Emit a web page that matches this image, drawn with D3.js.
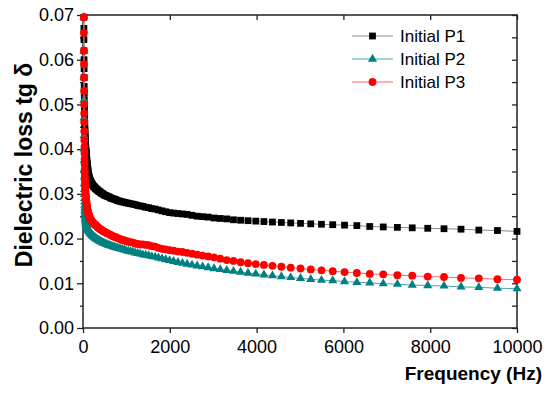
<!DOCTYPE html>
<html>
<head>
<meta charset="utf-8">
<script src="https://cdn.jsdelivr.net/npm/d3@7"></script>
<style>
  body { margin: 0; background: #fff; }
  svg { display: block; font-family: "Liberation Sans", Arial, sans-serif; }
</style>
</head>
<body>
<svg id="chart" width="550" height="393"></svg>
<script>
// measurement frequencies (Hz)
const freq = [
  20.0, 20.9, 21.9, 22.9, 24.0, 25.1, 26.3, 27.5, 28.8, 30.2,
  31.6, 33.1, 34.7, 36.3, 38.0, 39.8, 41.7, 43.7, 45.7, 47.9,
  50.1, 52.5, 55.0, 57.5, 60.3, 63.1, 66.1, 69.2, 72.4, 75.9,
  79.4, 83.2, 87.1, 91.2, 95.5, 100, 104.7, 109.6, 114.8, 120.2,
  125.9, 131.8, 138.0, 144.5, 151.4, 158.5, 166.0, 173.8, 182.0, 190.5,
  199.5, 208.9, 218.8, 229.1, 239.9, 251.2, 263.0, 275.4, 288.4, 302.0,
  316.2, 331.1, 346.7, 363.1, 380.2, 398.1, 416.9, 436.5, 457.1, 478.6,
  501.2, 524.8, 549.5, 575.4, 602.6, 631.0, 660.7, 691.8, 724.4, 758.6,
  794.3, 831.8, 871.0, 912.0, 955.0, 1000, 1047, 1096, 1148, 1202,
  1259, 1318, 1380, 1445, 1514, 1585, 1660, 1738, 1820, 1905,
  1995, 2089, 2188, 2291, 2399, 2512, 2630, 2754, 2884, 3020,
  3162, 3311, 3467, 3631, 3802, 3981, 4169, 4365, 4571, 4786,
  5012, 5248, 5495, 5754, 6026, 6310, 6607, 6918, 7244, 7586,
  7943, 8318, 8710, 9120, 9550, 10000
];

// dielectric loss tg delta
const p1 = [
  0.0695, 0.0670, 0.0645, 0.0620, 0.0600, 0.0580, 0.0560, 0.0540, 0.0525, 0.0510,
  0.0498, 0.0488, 0.0478, 0.0470, 0.0462, 0.0455, 0.0448, 0.0442, 0.0436, 0.0430,
  0.0425, 0.0421, 0.0417, 0.0413, 0.0409, 0.0405, 0.0401, 0.0397, 0.0393, 0.0389,
  0.0385, 0.0381, 0.0377, 0.0373, 0.0369, 0.0365, 0.0361, 0.0357, 0.0353, 0.0349,
  0.0345, 0.0342, 0.0339, 0.0336, 0.0334, 0.0332, 0.0330, 0.0328, 0.0326, 0.0325,
  0.0323, 0.0322, 0.0320, 0.0319, 0.0317, 0.0316, 0.0315, 0.0314, 0.0312, 0.0311,
  0.0310, 0.0309, 0.0307, 0.0306, 0.0305, 0.0304, 0.0302, 0.0301, 0.0300, 0.0298,
  0.0297, 0.0296, 0.0295, 0.0294, 0.0293, 0.0291, 0.0290, 0.0289, 0.0288, 0.0287,
  0.0285, 0.0284, 0.0283, 0.0282, 0.0281, 0.0280, 0.0279, 0.0278, 0.0277, 0.0276,
  0.0274, 0.0273, 0.0272, 0.0270, 0.0269, 0.0267, 0.0266, 0.0264, 0.0262, 0.0260,
  0.0258, 0.0257, 0.0256, 0.0255, 0.0254, 0.0252, 0.0250, 0.0249, 0.0248, 0.0246,
  0.0245, 0.0244, 0.0242, 0.0241, 0.0240, 0.0239, 0.0238, 0.0237, 0.0236, 0.0235,
  0.0234, 0.0233, 0.0232, 0.0231, 0.0230, 0.0229, 0.0227, 0.0226, 0.0225, 0.0224,
  0.0223, 0.0222, 0.0221, 0.0219, 0.0218, 0.0216
];
const p2 = [
  0.0695, 0.0620, 0.0560, 0.0510, 0.0470, 0.0430, 0.0400, 0.0375, 0.0355, 0.0338,
  0.0323, 0.0310, 0.0299, 0.0290, 0.0282, 0.0275, 0.0269, 0.0264, 0.0260, 0.0256,
  0.0252, 0.0249, 0.0246, 0.0243, 0.0241, 0.0239, 0.0237, 0.0235, 0.0233, 0.0232,
  0.0230, 0.0229, 0.0228, 0.0226, 0.0225, 0.0224, 0.0223, 0.0222, 0.0221, 0.0220,
  0.0219, 0.0218, 0.0217, 0.0216, 0.0215, 0.0214, 0.0213, 0.0212, 0.0211, 0.0210,
  0.0209, 0.0208, 0.0207, 0.0206, 0.0205, 0.0204, 0.0203, 0.0202, 0.0201, 0.0200,
  0.0199, 0.0198, 0.0197, 0.0196, 0.0195, 0.0194, 0.0193, 0.0192, 0.0191, 0.0190,
  0.0189, 0.0188, 0.0187, 0.0186, 0.0185, 0.0184, 0.0183, 0.0182, 0.0181, 0.0180,
  0.0179, 0.0178, 0.0177, 0.0176, 0.0175, 0.0173, 0.0172, 0.0171, 0.0170, 0.0168,
  0.0167, 0.0166, 0.0164, 0.0163, 0.0162, 0.0160, 0.0159, 0.0157, 0.0155, 0.0153,
  0.0151, 0.0149, 0.0147, 0.0145, 0.0143, 0.0141, 0.0139, 0.0137, 0.0135, 0.0133,
  0.0131, 0.0129, 0.0127, 0.0125, 0.0123, 0.0121, 0.0119, 0.0117, 0.0115, 0.0113,
  0.0111, 0.0109, 0.0107, 0.0106, 0.0104, 0.0102, 0.0101, 0.0099, 0.0098, 0.0096,
  0.0095, 0.0094, 0.0092, 0.0091, 0.0089, 0.0088
];
const p3 = [
  0.0695, 0.0660, 0.0620, 0.0590, 0.0560, 0.0530, 0.0500, 0.0480, 0.0460, 0.0440,
  0.0420, 0.0405, 0.0390, 0.0378, 0.0366, 0.0355, 0.0345, 0.0337, 0.0330, 0.0323,
  0.0317, 0.0312, 0.0307, 0.0303, 0.0299, 0.0296, 0.0293, 0.0290, 0.0287, 0.0284,
  0.0281, 0.0278, 0.0275, 0.0272, 0.0269, 0.0266, 0.0264, 0.0262, 0.0260, 0.0258,
  0.0256, 0.0254, 0.0252, 0.0250, 0.0249, 0.0247, 0.0245, 0.0244, 0.0242, 0.0241,
  0.0239, 0.0238, 0.0237, 0.0236, 0.0234, 0.0233, 0.0232, 0.0231, 0.0230, 0.0229,
  0.0228, 0.0226, 0.0225, 0.0224, 0.0222, 0.0221, 0.0220, 0.0219, 0.0217, 0.0216,
  0.0215, 0.0214, 0.0212, 0.0211, 0.0210, 0.0208, 0.0207, 0.0205, 0.0204, 0.0203,
  0.0201, 0.0200, 0.0198, 0.0197, 0.0196, 0.0194, 0.0193, 0.0192, 0.0191, 0.0189,
  0.0188, 0.0187, 0.0187, 0.0186, 0.0185, 0.0183, 0.0182, 0.0179, 0.0177, 0.0176,
  0.0174, 0.0173, 0.0171, 0.0170, 0.0168, 0.0166, 0.0164, 0.0162, 0.0160, 0.0158,
  0.0155, 0.0152, 0.0150, 0.0147, 0.0145, 0.0143, 0.0141, 0.0139, 0.0137, 0.0135,
  0.0133, 0.0131, 0.0129, 0.0127, 0.0125, 0.0123, 0.0121, 0.0120, 0.0118, 0.0117,
  0.0115, 0.0114, 0.0112, 0.0111, 0.0109, 0.0108
];

const seriesNames = ['Initial P1', 'Initial P2', 'Initial P3'];
const xTicks = [0, 2000, 4000, 6000, 8000, 10000];
const yTicks = [0, 0.01, 0.02, 0.03, 0.04, 0.05, 0.06, 0.07];
const yMinor = [0.005, 0.015, 0.025, 0.035, 0.045, 0.055, 0.065];

const svg = d3.select('#chart');
const x = d3.scaleLinear().domain([0, 10000]).range([83, 517]);
const y = d3.scaleLinear().domain([0, 0.07]).range([328, 15]);

const font = '"Liberation Sans", Arial, sans-serif';

// bottom axis
const gx = svg.append('g')
  .attr('transform', 'translate(0,328)')
  .call(d3.axisBottom(x).tickValues(xTicks).tickSize(5).tickPadding(7).tickFormat(d3.format('d')));
// left axis
const gy = svg.append('g')
  .attr('transform', 'translate(83,0)')
  .call(d3.axisLeft(y).tickValues(yTicks).tickSize(6).tickPadding(3).tickFormat(d3.format('.2f')));
const gyMinor = svg.append('g')
  .attr('transform', 'translate(83,0)')
  .call(d3.axisLeft(y).tickValues(yMinor).tickSize(3).tickFormat(''));
// mirror ticks on top and right, pointing inward
const gTop = svg.append('g')
  .attr('transform', 'translate(0,15)')
  .call(d3.axisBottom(x).tickValues(xTicks).tickSize(5).tickFormat(''));
const gRight = svg.append('g')
  .attr('transform', 'translate(517,0)')
  .call(d3.axisLeft(y).tickValues(yTicks.concat(yMinor)).tickSize(5).tickFormat(''));

[gx, gy, gyMinor, gTop, gRight].forEach(g => {
  g.select('.domain').remove();
  g.selectAll('line').attr('stroke', '#222').attr('stroke-width', 1.3);
  g.selectAll('text').attr('fill', '#000').style('font-size', '18px').style('font-family', font);
});

// frame
svg.append('rect')
  .attr('x', 83).attr('y', 15)
  .attr('width', 517 - 83).attr('height', 328 - 15)
  .attr('fill', 'none').attr('stroke', '#222').attr('stroke-width', 1.5);

// series
const series = [
  { name: seriesNames[0], values: p1, color: '#000000', line: '#888888', shape: 'square' },
  { name: seriesNames[1], values: p2, color: '#008080', line: '#4aa5a5', shape: 'triangle' },
  { name: seriesNames[2], values: p3, color: '#ff0000', line: '#ff6666', shape: 'circle' }
];

const symbolType = { square: d3.symbolSquare, triangle: d3.symbolTriangle, circle: d3.symbolCircle };
const symbolSize = { square: 46, triangle: 36, circle: 48 };

const line = d3.line().x(d => x(d[0])).y(d => y(d[1]));

series.forEach(s => {
  const pts = freq.map((f, i) => [f, s.values[i]]);
  svg.append('path')
    .datum(pts)
    .attr('d', line)
    .attr('fill', 'none')
    .attr('stroke', s.line)
    .attr('stroke-width', 1);
  svg.append('g')
    .selectAll('path')
    .data(pts)
    .enter()
    .append('path')
    .attr('transform', d => `translate(${x(d[0])},${y(d[1])})`)
    .attr('d', d3.symbol().type(symbolType[s.shape]).size(symbolSize[s.shape]))
    .attr('fill', s.color);
});

// legend
const legend = svg.append('g');
series.forEach((s, i) => {
  const ly = 36 + i * 23;
  legend.append('line')
    .attr('x1', 352).attr('x2', 393).attr('y1', ly).attr('y2', ly)
    .attr('stroke', s.line).attr('stroke-width', 1);
  legend.append('path')
    .attr('transform', `translate(372.5,${ly})`)
    .attr('d', d3.symbol().type(symbolType[s.shape]).size(symbolSize[s.shape]))
    .attr('fill', s.color);
  legend.append('text')
    .attr('x', 400).attr('y', ly).attr('dy', '0.36em')
    .style('font-size', '17px').style('font-family', font)
    .text(s.name);
});

// axis titles
svg.append('text')
  .attr('x', 542).attr('y', 380)
  .attr('text-anchor', 'end')
  .style('font-size', '19px').style('font-weight', 'bold').style('font-family', font)
  .text('Frequency (Hz)');

svg.append('text')
  .attr('transform', 'translate(32,165) rotate(-90)')
  .attr('text-anchor', 'middle')
  .style('font-size', '23px').style('font-weight', 'bold').style('font-family', font)
  .text('Dielectric loss tg δ');
</script>
</body>
</html>
